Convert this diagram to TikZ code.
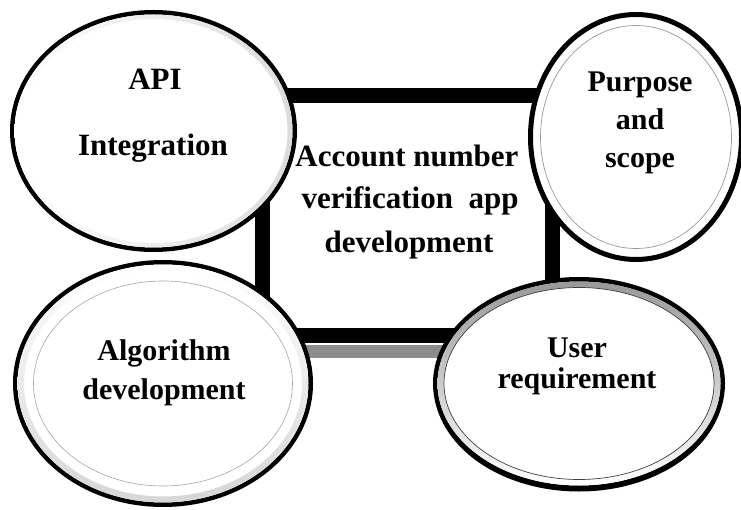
\documentclass[tikz,border=0pt]{standalone}
\usepackage{fontspec}
\setmainfont{Liberation Serif}
\usetikzlibrary{shapes.geometric}
\begin{document}
\begin{tikzpicture}[x=1pt,y=-1pt,
  oval/.style={ellipse, draw=black, line width=4.5pt, fill=white, inner sep=0pt, outer sep=0pt},
  ring/.style={ellipse, draw=#1, line width=0.8pt, inner sep=0pt, outer sep=0pt},
  lbl/.style={font=\fontsize{30}{36}\selectfont\bfseries, inner sep=0pt, anchor=base},
  biglbl/.style={font=\fontsize{31}{36}\selectfont\bfseries, inner sep=0pt, anchor=base},
  corebox/.style={rectangle, draw=black, line width=15pt, fill=white, inner sep=0pt, outer sep=0pt,
    minimum width=290pt, minimum height=240pt}
]
\useasboundingbox (0,0) rectangle (741,510);

% shadow bar under the central square
\fill[black!45] (262,345) rectangle (552,358);

% central square
\node[corebox] (core) at (407.5,215.5) {};

% API Integration
\node[oval, minimum width=282.5pt, minimum height=237.5pt] (apiE) at (153.5,131) {};
\shade[even odd rule, left color=white, right color=black!14]
  (153.5,131) ellipse [x radius=139pt, y radius=116.5pt]
  (153.5,131) ellipse [x radius=133pt, y radius=111pt];
\node[ellipse, draw=white, line width=2pt, minimum width=266pt, minimum height=222pt, inner sep=0pt] (apiI) at (153.5,131) {};

% Purpose and scope
\node[oval, line width=5pt, minimum width=211pt, minimum height=245pt] (purE) at (636,137) {};
\node[ring=black!40, line width=0.7pt, minimum width=191pt, minimum height=223pt] (purI) at (636,137) {};

% Algorithm development
\node[oval, minimum width=295.5pt, minimum height=242.5pt] (algE) at (163,383.5) {};
\shade[even odd rule, top color=white, bottom color=black!16]
  (163,383.5) ellipse [x radius=145.5pt, y radius=119pt]
  (163,383.5) ellipse [x radius=139pt, y radius=113pt];
\node[ring=black!35, line width=0.6pt, minimum width=259pt, minimum height=205pt] (algI) at (163,383.5) {};

% User requirement
\fill[black] (579,386.5) ellipse [x radius=145pt, y radius=105pt];
\node[oval, minimum width=287.5pt, minimum height=208.5pt] (usrE) at (579,383.5) {};
\shade[even odd rule, top color=black!40, middle color=white, bottom color=white]
  (579,383.5) ellipse [x radius=141.5pt, y radius=102pt]
  (579,383.5) ellipse [x radius=135pt, y radius=96pt];
\node[ring=black!75, line width=0.7pt, minimum width=270pt, minimum height=192pt] (usrI) at (579,383.5) {};

% labels
\node[lbl, font=\fontsize{31}{36}\selectfont\bfseries] (apiT1) at (155,90) {API};
\node[lbl, font=\fontsize{31}{36}\selectfont\bfseries] (apiT2) at (153,156) {Integration};

\node[lbl] (purT1) at (640,92) {Purpose};
\node[lbl] (purT2) at (640,130) {and};
\node[lbl] (purT3) at (640,168) {scope};

\node[biglbl] (coreT1) at (407,167) {Account number};
\node[biglbl] (coreT2) at (410,209) {verification\ \ app};
\node[biglbl] (coreT3) at (409,253) {development};

\node[lbl] (algT1) at (164,360) {Algorithm};
\node[lbl] (algT2) at (164,399) {development};

\node[lbl] (usrT1) at (577,357) {User};
\node[lbl] (usrT2) at (577,388) {requirement};
\end{tikzpicture}
\end{document}
